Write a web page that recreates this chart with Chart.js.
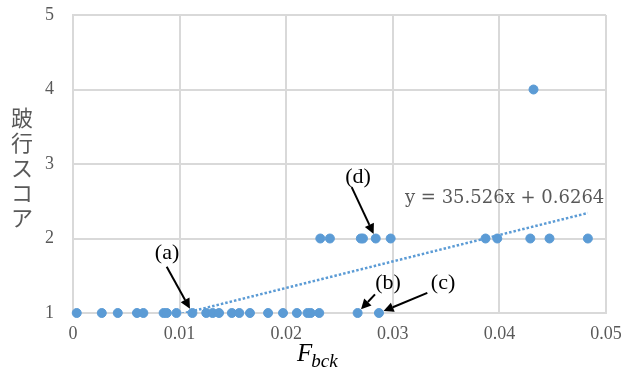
<!DOCTYPE html>
<html>
<head>
<meta charset="utf-8">
<script src="https://cdn.jsdelivr.net/npm/chart.js@4"></script>
<style>
  html, body { margin: 0; padding: 0; background: #fff; }
  #wrap { width: 624px; height: 372px; }
</style>
</head>
<body>
<div id="wrap"><canvas id="myChart" width="624" height="372"></canvas></div>
<script>
// datos: F_bck y puntuación de cojera
const fbck = [0.00035, 0.0027, 0.0042, 0.0060, 0.0066, 0.0085, 0.0088, 0.0097, 0.0112, 0.0125,
              0.0131, 0.0137, 0.0149, 0.0156, 0.0166, 0.0183, 0.0197, 0.0210, 0.0220, 0.0223,
              0.0231, 0.0267, 0.0287,
              0.0232, 0.0241, 0.0270, 0.0272, 0.0284, 0.0298, 0.0387, 0.0398, 0.0429, 0.0447, 0.0483,
              0.0432];
const score = [1, 1, 1, 1, 1, 1, 1, 1, 1, 1,
               1, 1, 1, 1, 1, 1, 1, 1, 1, 1,
               1, 1, 1,
               2, 2, 2, 2, 2, 2, 2, 2, 2, 2, 2,
               4];
const slope = 35.526;
const intercept = 0.6264;
const eqText = 'y = 35.526x + 0.6264';
const yTitle = ['跛', '行', 'ス', 'コ', 'ア'];

// etiquetas (a)-(d): índice del punto señalado
const marks = ['(a)', '(b)', '(c)', '(d)'];
const markIdx = [8, 21, 22, 27];
// posiciones en coordenadas de datos (texto y origen de flecha)
const markPos = [
  { tx: 0.00882, ty: 1.80, fx: 0.00879, fy: 1.62 },
  { tx: 0.02955, ty: 1.40, fx: 0.02833, fy: 1.25 },
  { tx: 0.03471, ty: 1.40, fx: 0.03324, fy: 1.27 },
  { tx: 0.02674, ty: 2.82, fx: 0.02614, fy: 2.69 }
];
const eqPos = { x: 0.03114, y: 2.54 };

const gray = '#595959';
const blue = '#5B9BD5';

const points = fbck.map((x, i) => ({ x: x, y: score[i] }));
const xmin = Math.min(...fbck), xmax = Math.max(...fbck);
const trend = [xmin, xmax].map(x => ({ x: x, y: slope * x + intercept }));

const extras = {
  id: 'extras',
  afterDraw(chart) {
    const c = chart.ctx, xs = chart.scales.x, ys = chart.scales.y, a = chart.chartArea;
    c.save();
    // etiquetas y flechas
    c.fillStyle = '#000';
    c.strokeStyle = '#000';
    c.font = '22px "Liberation Serif"';
    c.textAlign = 'center';
    c.textBaseline = 'middle';
    marks.forEach((m, i) => {
      const p = markPos[i];
      c.fillText(m, xs.getPixelForValue(p.tx), ys.getPixelForValue(p.ty));
      const x0 = xs.getPixelForValue(p.fx), y0 = ys.getPixelForValue(p.fy);
      const pt = points[markIdx[i]];
      let x1 = xs.getPixelForValue(pt.x), y1 = ys.getPixelForValue(pt.y);
      const ang = Math.atan2(y1 - y0, x1 - x0);
      x1 -= Math.cos(ang) * 5; y1 -= Math.sin(ang) * 5;
      const hx = x1 - Math.cos(ang) * 10, hy = y1 - Math.sin(ang) * 10;
      c.lineWidth = 2;
      c.beginPath(); c.moveTo(x0, y0); c.lineTo(hx, hy); c.stroke();
      c.beginPath();
      c.moveTo(x1, y1);
      c.lineTo(hx + Math.sin(ang) * 5, hy - Math.cos(ang) * 5);
      c.lineTo(hx - Math.sin(ang) * 5, hy + Math.cos(ang) * 5);
      c.closePath(); c.fill();
    });
    // ecuación
    c.fillStyle = gray;
    c.font = '18px "DejaVu Serif"';
    c.textAlign = 'left';
    c.fillText(eqText, xs.getPixelForValue(eqPos.x), ys.getPixelForValue(eqPos.y));
    // título eje Y (vertical)
    c.font = '22px "Noto Sans CJK JP"';
    c.textAlign = 'center';
    const mid = (a.top + a.bottom) / 2 + 4;
    yTitle.forEach((ch, i) => {
      c.fillText(ch, 22, mid + (i - 2) * 25);
    });
    // título eje X: F_bck
    c.fillStyle = '#000';
    c.textAlign = 'left';
    c.textBaseline = 'alphabetic';
    c.font = 'italic 25px "Liberation Serif"';
    const fx = 297;
    c.fillText('F', fx, 361);
    const fw = c.measureText('F').width;
    c.font = 'italic 19px "Liberation Serif"';
    c.fillText('bck', fx + fw - 1, 367);
    c.restore();
  }
};

const myChart = new Chart(document.getElementById('myChart').getContext('2d'), {
  type: 'scatter',
  data: {
    datasets: [
      {
        label: 'trend',
        type: 'line',
        data: trend,
        borderColor: blue,
        borderWidth: 2.5,
        borderDash: [2.5, 2],
        pointRadius: 0,
        fill: false,
        order: 0
      },
      {
        label: 'score',
        data: points,
        backgroundColor: blue,
        borderColor: blue,
        pointRadius: 4.5,
        pointHoverRadius: 4.5,
        clip: false,
        order: 1
      }
    ]
  },
  options: {
    responsive: false,
    animation: false,
    layout: { padding: { top: 15, right: 18, left: 0, bottom: 0 } },
    plugins: { legend: { display: false }, tooltip: { enabled: false } },
    scales: {
      x: {
        type: 'linear',
        min: 0, max: 0.05,
        afterFit: s => { s.height = 59; s.paddingLeft = 0; s.paddingRight = 0; },
        grid: { color: '#d9d9d9', lineWidth: 2, drawTicks: false },
        border: { color: '#d9d9d9', width: 2 },
        ticks: {
          stepSize: 0.01,
          padding: 10,
          color: gray,
          font: { family: '"Liberation Serif"', size: 18 },
          callback: v => String(+v.toFixed(2))
        }
      },
      y: {
        min: 1, max: 5,
        afterFit: s => { s.width = 73; s.paddingTop = 0; s.paddingBottom = 0; },
        grid: { color: '#d9d9d9', lineWidth: 2, drawTicks: false },
        border: { color: '#d9d9d9', width: 2 },
        ticks: {
          stepSize: 1,
          padding: 19,
          color: gray,
          font: { family: '"Liberation Serif"', size: 18 }
        }
      }
    }
  },
  plugins: [extras]
});
</script>
</body>
</html>
